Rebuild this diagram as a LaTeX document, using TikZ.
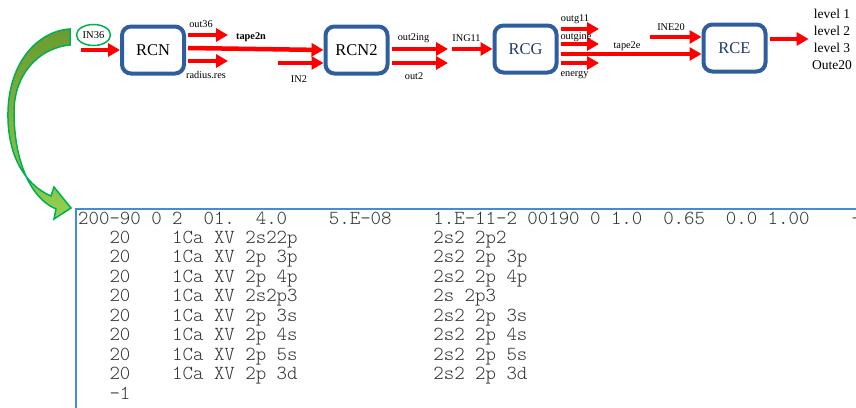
\documentclass[tikz,border=0pt]{standalone}
\usepackage{fontspec}
\setmainfont{Liberation Serif}
\newfontfamily\codefont{Latin Modern Mono Light}
\usetikzlibrary{arrows.meta,shapes.geometric}

\definecolor{boxblue}{RGB}{46,94,158}
\definecolor{boxtext}{RGB}{31,56,110}
\definecolor{flowred}{RGB}{255,0,0}
\definecolor{ringgreen}{RGB}{0,176,80}
\definecolor{darkleaf}{RGB}{108,154,48}
\definecolor{lightleaf}{RGB}{146,208,80}
\definecolor{listblue}{RGB}{70,140,210}
\definecolor{listgray}{RGB}{50,50,50}

\tikzset{
  block/.style={draw=boxblue, line width=4pt, rounded corners=9pt, minimum width=62pt, minimum height=47pt, inner sep=0pt, font=\fontsize{16.5}{18}\selectfont},
  flow/.style={draw=flowred, line width=4.5pt, -{Triangle[length=12pt,width=13pt]}},
  lbl/.style={inner sep=0pt, font=\fontsize{10.3}{12}\selectfont},
  listing/.style={inner sep=0pt, anchor=base west, text=listgray, font=\codefont\fontsize{19.9}{19.4}\selectfont}
}

\begin{document}
\frenchspacing
\begin{tikzpicture}[x=1pt,y=-1pt]
  \useasboundingbox (0,0) rectangle (856,407);
  \clip (0,0) rectangle (856,407);

  % green pointer from the input down to the listing
  \shade[top color=darkleaf, bottom color=lightleaf, draw=ringgreen, line width=1.5pt]
    (70,29) .. controls (38,31) and (9,62) .. (8,112)
    .. controls (7,155) and (25,185) .. (51,196)
    -- (54,187) -- (71,208) -- (54,219) -- (56,209)
    .. controls (30,198) and (14,160) .. (14,112)
    .. controls (14,75) and (38,48) .. (70,45) -- cycle;

  % code blocks
  \node[block] (RCN) at (153,50) {RCN};
  \node[block] (RCN2) at (356.5,50) {RCN2};
  \node[block, text=boxtext] (RCG) at (525.5,49) {RCG};
  \node[block, text=boxtext] (RCE) at (734.5,48) {RCE};

  \node[ellipse, draw=ringgreen, line width=1.5pt, inner sep=0pt, minimum width=34pt, minimum height=21pt, font=\fontsize{10.5}{12}\selectfont] (IN36) at (93.5,35) {IN36};
  \node[align=center, font=\fontsize{13.5}{17}\selectfont] (levels) at (832,39) {level 1\\level 2\\level 3\\Oute20};

  % free ends of the arrows
  \coordinate (in36) at (81,50);
  \coordinate (o36a) at (188,35);   \coordinate (o36b) at (228,35);
  \coordinate (t2n)  at (188,48);
  \coordinate (rra)  at (188,61);   \coordinate (rrb)  at (228,61);
  \coordinate (in2)  at (278,63);
  \coordinate (o2ia) at (392,49);   \coordinate (o2ib) at (448,49);
  \coordinate (o2a)  at (392,63);   \coordinate (o2b)  at (448,63);
  \coordinate (g11)  at (452,49);
  \coordinate (og1a) at (561,29);   \coordinate (og1b) at (599,29);
  \coordinate (og2a) at (561,44);   \coordinate (og2b) at (599,44);
  \coordinate (t2e)  at (561,54);
  \coordinate (ena)  at (561,63);   \coordinate (enb)  at (599,63);
  \coordinate (e20)  at (650,37);
  \coordinate (reo)  at (770,39);

  \draw[flow] (in36) -- (RCN.west);
  \draw[flow] (o36a) -- (o36b);
  \draw[flow] (t2n) -- (RCN2.west);
  \draw[flow] (rra) -- (rrb);
  \draw[flow] (in2) -- (in2 -| RCN2.west);
  \draw[flow] (o2ia) -- (o2ib);
  \draw[flow] (o2a) -- (o2b);
  \draw[flow] (g11) -- (RCG.west);
  \draw[flow] (og1a) -- (og1b);
  \draw[flow] (og2a) -- (og2b);
  \draw[flow] (t2e) -- (t2e -| RCE.west);
  \draw[flow] (ena) -- (enb);
  \draw[flow] (e20) -- (e20 -| RCE.west);
  \draw[flow] (reo) -- (reo -| levels.west);

  % arrow labels
  \node[lbl] (out36) at (201,24) {out36};
  \node[lbl] (tape2n) at (251,37) {\bfseries tape2n};
  \node[lbl] (radius) at (206,75) {radius.res};
  \node[lbl] (IN2) at (299,79) {IN2};
  \node[lbl] (out2ing) at (413.5,38) {out2ing};
  \node[lbl] (out2) at (414,76) {out2};
  \node[lbl] (ING11) at (466.5,38) {ING11};
  \node[lbl] (outg11) at (575,19) {outg11};
  \node[lbl] (outgine) at (576,37) {outgine};
  \node[lbl] (tape2e) at (627,46) {tape2e};
  \node[lbl] (energy) at (574.5,75) {energy};
  \node[lbl] (INE20) at (671,27) {INE20};

  % input listing
  \draw[listblue, line width=1.6pt] (76,209) rectangle (880,430);
  \node[listing] (row1) at (78,224) {200-90~0~2~~01.~~4.0~~~~5.E-08~~~~1.E-11-2~00190~0~1.0~~0.65~~0.0~1.00~~~~-0};
  \foreach \lo/\up [count=\i from 2] in {2s22p/2s2 2p2, 2p 3p/2s2 2p 3p, 2p 4p/2s2 2p 4p, 2s2p3/2s 2p3,
      2p 3s/2s2 2p 3s, 2p 4s/2s2 2p 4s, 2p 5s/2s2 2p 5s, 2p 3d/2s2 2p 3d}
    \node[listing] (row\i) at (78,{224+19.44*(\i-1)}) {~~~20~~~~1Ca~XV~\lo~~~~~~~~~~~~~\up};
  \node[listing] (row10) at (78,399) {~~~-1};
\end{tikzpicture}
\end{document}
